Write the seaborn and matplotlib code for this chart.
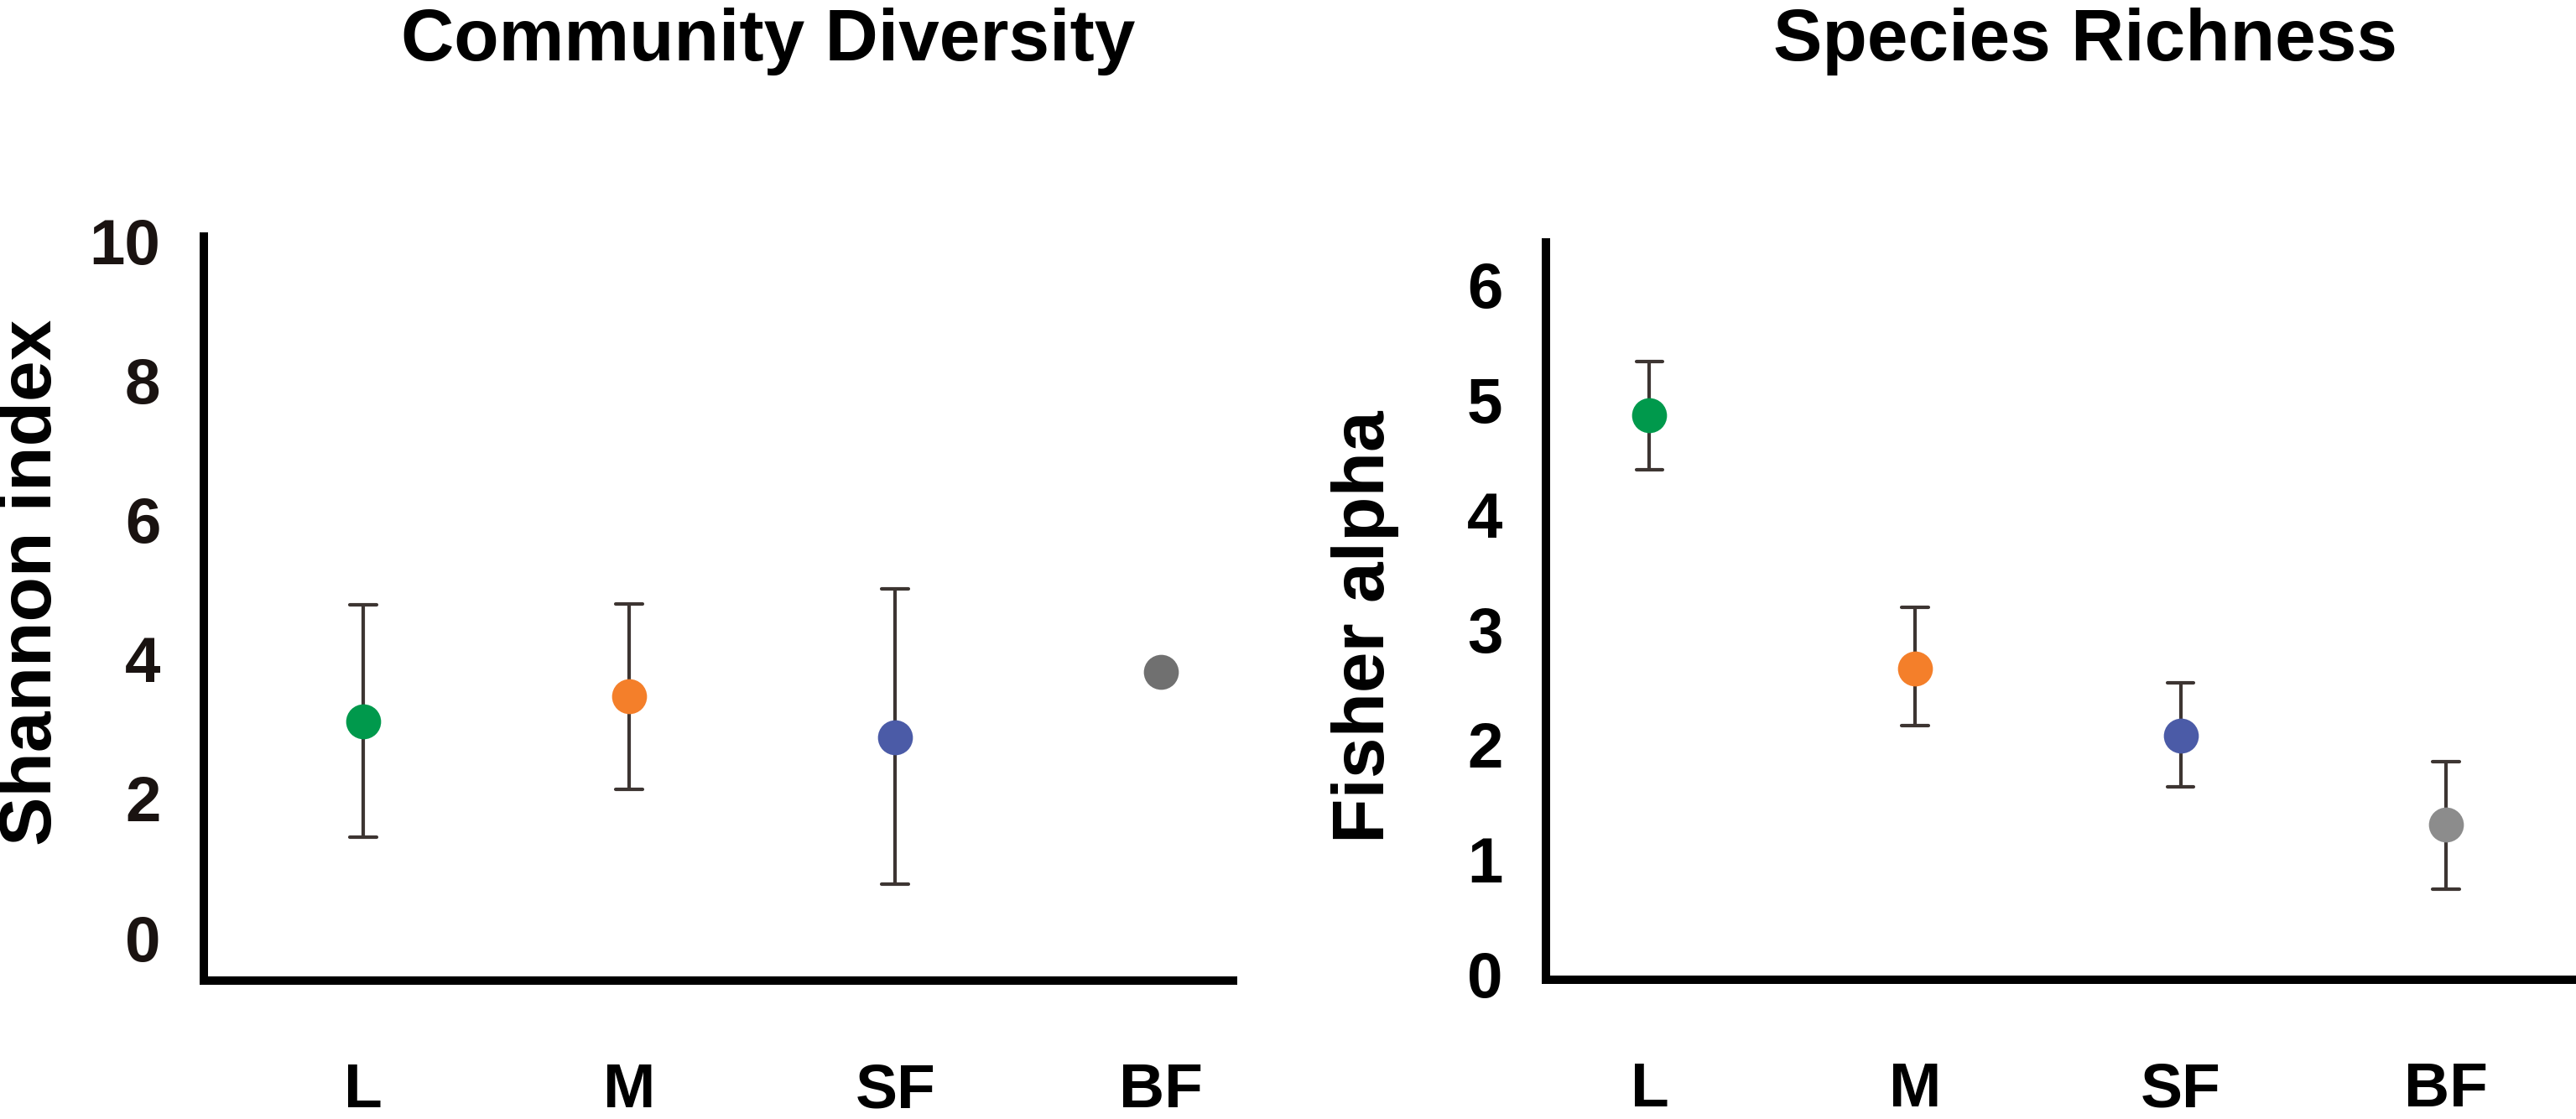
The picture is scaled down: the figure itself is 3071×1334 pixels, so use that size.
import numpy as np
import pandas as pd
import matplotlib
matplotlib.use('Agg')
import matplotlib.pyplot as plt
import seaborn as sns

sns.set_style('white')
plt.rcParams['font.family'] = ['Liberation Sans', 'DejaVu Sans']
plt.rcParams['text.color'] = 'black'
plt.rcParams['axes.labelcolor'] = 'black'
plt.rcParams['xtick.color'] = 'black'
plt.rcParams['ytick.color'] = 'black'

# habitat categories
sites = ['L', 'M', 'SF', 'BF']

# Shannon index: mean and whisker ends (BF has no whiskers)
shannon_mean = [3.11, 3.47, 2.88, 3.82]
shannon_low = [1.45, 2.13, 0.77, 3.82]
shannon_high = [4.78, 4.80, 5.01, 3.82]

# Fisher alpha: mean and whisker ends
fisher_mean = [4.86, 2.66, 2.07, 1.30]
fisher_low = [4.39, 2.16, 1.63, 0.74]
fisher_high = [5.33, 3.19, 2.53, 1.85]

shannon_colors = ['#00994C', '#F47F2A', '#4B5BA7', '#707070']
fisher_colors = ['#00994C', '#F47F2A', '#4B5BA7', '#8C8C8C']
bar_color = '#3D3532'


def long_table(mean, low, high):
    # three rows per site so that median = mean and the 100% interval = whiskers
    rows = []
    for s, m, lo, hi in zip(sites, mean, low, high):
        for v in (lo, m, hi):
            rows.append({'site': s, 'value': v})
    return pd.DataFrame(rows)


df_sh = long_table(shannon_mean, shannon_low, shannon_high)
df_fa = long_table(fisher_mean, fisher_low, fisher_high)

W, H = 3071, 1334
fig = plt.figure(figsize=(W / 100, H / 100), dpi=100)

# axes boxes from pixel positions
ax1 = fig.add_axes([243 / W, (H - 1169) / H, (1470 - 243) / W, (1169 - 282) / H])
ax2 = fig.add_axes([1843 / W, (H - 1168) / H, (3068 - 1843) / W, (1168 - 289) / H])

panels = [
    (ax1, df_sh, shannon_colors, 'Community Diversity', 'Shannon index',
     (-0.614, 10.07), np.arange(0, 11, 2), (-0.6, 3.27), '#1a1311', 0.548, 1.237, (39, 694)),
    (ax2, df_fa, fisher_colors, 'Species Richness', 'Fisher alpha',
     (-0.051, 6.365), np.arange(0, 7, 1), (-0.39, 3.48), 'black', 0.525, 1.247, (1627, 747)),
]

for ax, df, cols, title, ylab, ylim, yticks, xlim, tcol, tx, ty, ylpos in panels:
    sns.pointplot(data=df, x='site', y='value', hue='site', order=sites, hue_order=sites,
                  palette=dict(zip(sites, cols)), estimator='median', errorbar=('pi', 100),
                  capsize=0.1, linestyle='none', markersize=30, markeredgewidth=0,
                  zorder=3, legend=False, ax=ax,
                  err_kws={'color': bar_color, 'linewidth': 3.0, 'zorder': 2})
    ax.set_xlim(*xlim)
    ax.set_ylim(*ylim)
    ax.set_yticks(yticks)
    ax.set_xlabel('')
    ax.set_ylabel(ylab, fontsize=63, fontweight='bold')
    ax.yaxis.set_label_coords(ylpos[0] / W, 1 - ylpos[1] / H, transform=fig.transFigure)
    ax.yaxis.label.set_va('center')
    ax.set_title(title, fontsize=63, fontweight='bold', x=tx, y=ty, pad=0, color='black')
    sns.despine(ax=ax)
    for side in ('left', 'bottom'):
        ax.spines[side].set_linewidth(7.2)
        ax.spines[side].set_color('black')
    ax.tick_params(axis='y', length=0, pad=37, labelsize=55, labelcolor=tcol)
    ax.tick_params(axis='x', length=0, pad=70, labelsize=54, labelcolor='black')
    for lab in ax.get_xticklabels() + ax.get_yticklabels():
        lab.set_fontweight('bold')

fig.savefig('out.png', dpi=100)
